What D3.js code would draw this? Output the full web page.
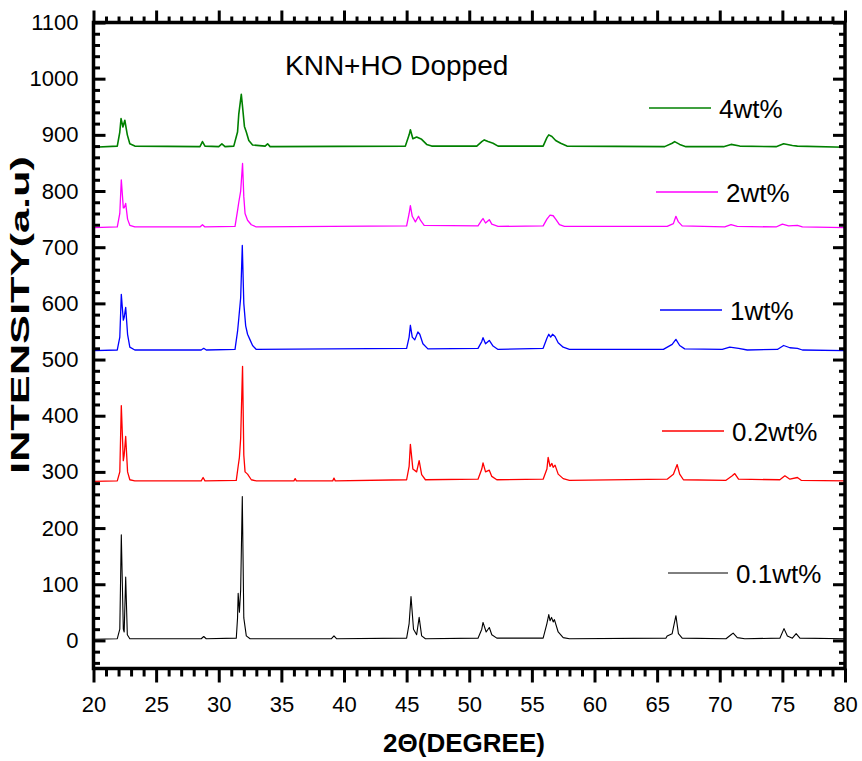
<!DOCTYPE html>
<html>
<head>
<meta charset="utf-8">
<script src="https://cdn.jsdelivr.net/npm/d3@7"></script>
<style>
  body { margin: 0; background: #fff; }
  svg { display: block; font-family: "Liberation Sans", Arial, sans-serif; }
</style>
</head>
<body>
<svg id="chart" width="862" height="761"></svg>
<script>
// peak profiles, [2theta, intensity]
const wt01 = [[20,2],[21.9,3],[22.1,20],[22.22,188],[22.38,20],[22.45,15],[22.57,113],[22.7,10],[22.9,3],
  [28.6,3],[28.8,7],[29.0,3],[31.4,4],[31.5,40],[31.55,84],[31.65,50],[31.75,90],[31.88,256],[32.0,40],[32.2,8],[32.5,3],
  [39.0,3],[39.2,8],[39.4,3],[45.0,4],[45.2,30],[45.35,78],[45.55,20],[45.8,10],[46.0,41],[46.2,8],[46.5,3],
  [50.7,4],[51.0,20],[51.1,32],[51.35,15],[51.6,23],[51.8,10],[52.2,4],[55.9,4],[56.2,30],[56.35,46],[56.45,35],
  [56.57,41],[56.7,33],[56.8,37],[57.1,15],[57.5,5],[58,3],[65.7,4],[65.8,8],[66.2,12],[66.5,44],[66.7,12],[67.0,4],
  [70.5,3],[70.9,10],[71.07,13],[71.4,5],[72,3],[74.8,4],[75.13,21],[75.4,8],[75.8,4],[76.1,12],[76.4,4],[80,3]];

const wt02 = [[20,283],[21.9,284],[22.1,300],[22.22,418],[22.38,320],[22.45,330],[22.57,363],[22.72,300],[22.9,286],[23.3,284],
  [28.6,284],[28.75,290],[28.9,284],[31.4,285],[31.55,310],[31.65,326],[31.75,360],[31.9,488],[32.0,330],[32.1,300],[32.3,296],
  [32.6,286],[33,284],[36.0,284],[36.1,288],[36.2,284],[39.1,284],[39.2,289],[39.3,284],[45.0,286],[45.2,310],[45.3,349],
  [45.5,305],[45.8,300],[46.0,320],[46.2,295],[46.5,286],[50.7,287],[51.0,305],[51.1,316],[51.3,300],[51.6,303],[51.8,292],
  [52.2,286],[55.9,287],[56.2,305],[56.3,326],[56.45,310],[56.6,315],[56.7,308],[56.85,312],[57.1,296],[57.5,288],[58,285],
  [65.8,287],[66.3,296],[66.6,313],[66.8,296],[67.1,286],[70.5,285],[71.0,293],[71.2,297],[71.5,287],[74.8,286],[75.2,293],
  [75.6,287],[76.2,290],[76.5,285],[80,284]];

const wt1 = [[20,516],[21.9,517],[22.1,540],[22.22,616],[22.38,570],[22.45,575],[22.57,593],[22.72,545],[22.9,522],[23.3,517],
  [28.6,517],[28.8,520],[29,517],[31.3,518],[31.5,550],[31.6,573],[31.75,610],[31.88,703],[32.0,600],[32.15,560],[32.3,545],
  [32.5,535],[32.7,525],[33,518],[45.0,520],[45.2,540],[45.3,561],[45.45,540],[45.65,535],[45.9,549],[46.05,545],[46.3,528],
  [46.7,519],[50.7,520],[51.0,532],[51.1,539],[51.3,528],[51.6,534],[51.9,524],[52.3,518],[55.9,520],[56.2,538],[56.35,545],
  [56.5,540],[56.65,545],[56.85,541],[57.1,530],[57.5,522],[58,518],[65.5,518],[66.2,527],[66.5,536],[66.8,525],[67.2,519],
  [70.2,518],[70.8,522],[71.5,520],[72.2,517],[74.6,518],[75.1,525],[75.6,521],[76.2,520],[76.6,517],[80,516]];

const wt2 = [[20,735],[21.9,736],[22.1,760],[22.22,820],[22.38,770],[22.45,770],[22.57,778],[22.72,750],[22.9,739],[23.3,736],
  [28.5,736],[28.7,740],[28.9,736],[31.3,737],[31.5,765],[31.6,780],[31.75,800],[31.9,849],[32.0,790],[32.1,760],[32.3,748],
  [32.6,740],[33,736],[45.0,738],[45.2,760],[45.3,774],[45.45,755],[45.7,745],[45.95,755],[46.1,748],[46.4,739],[50.7,738],
  [51.0,748],[51.1,751],[51.3,743],[51.6,749],[51.8,741],[52.3,737],[55.9,738],[56.2,750],[56.45,757],[56.7,756],[56.9,750],
  [57.2,740],[57.6,737],[65.8,737],[66.3,742],[66.5,755],[66.7,745],[67.0,738],[70.4,736],[70.9,740],[71.4,737],[74.5,736],
  [75.0,741],[75.5,738],[76.2,739],[76.6,736],[80,735]];

const wt4 = [[20,878],[21.9,880],[22.1,905],[22.2,929],[22.35,914],[22.5,926],[22.7,900],[22.9,884],[23.3,880],[28.5,879],
  [28.7,888],[28.9,880],[30.0,879],[30.25,884],[30.5,879],[31.2,880],[31.5,905],[31.6,937],[31.8,972],[31.9,950],[32.05,915],
  [32.2,905],[32.4,890],[32.7,882],[33.7,880],[33.9,884],[34.1,879],[44.9,880],[45.2,900],[45.3,909],[45.5,893],[45.8,896],
  [46.2,892],[46.6,883],[47,880],[50.6,880],[51.0,888],[51.2,891],[51.5,888],[51.9,885],[52.3,880],[55.9,880],[56.2,895],
  [56.35,900],[56.6,897],[56.9,890],[57.3,885],[57.8,880],[65.6,879],[66.2,885],[66.4,888],[66.8,883],[67.3,879],[70.3,879],
  [70.9,883],[71.6,880],[74.5,879],[75.1,884],[75.8,881],[76.2,880],[80,878]];

const labels = ["0.1wt%", "0.2wt%", "1wt%", "2wt%", "4wt%"];
const colors = ["#000000", "#ff0000", "#0000ff", "#ff00ff", "#008000"];
const xTicks = [20, 25, 30, 35, 40, 45, 50, 55, 60, 65, 70, 75, 80];
const yTicks = [0, 100, 200, 300, 400, 500, 600, 700, 800, 900, 1000, 1100];

// legend placement (line start/end x, y) per series
const legendPos = [[668, 728, 573], [662, 724, 431], [660, 722, 310], [656, 718, 192], [649, 711, 108]];

const series = [wt01, wt02, wt1, wt2, wt4];

const svg = d3.select("#chart");
svg.append("rect").attr("width", 862).attr("height", 761).attr("fill", "#fff");

const plotL = 93.5, plotR = 845, plotT = 22.5, plotB = 668.5;
const x = d3.scaleLinear().domain([20, 80]).range([plotL, plotR]);
const y = d3.scaleLinear().domain([-50, 1100]).range([plotB, plotT]);

const line = d3.line().x(d => x(d[0])).y(d => y(d[1]));

svg.append("g")
  .selectAll("path")
  .data(series)
  .join("path")
  .attr("d", line)
  .attr("fill", "none")
  .attr("stroke", (d, i) => colors[i])
  .attr("stroke-width", (d, i) => i === 0 ? 1.1 : (i === 4 ? 1.6 : 1.3))
  .attr("stroke-linejoin", "round");

// minor/major ticks
const xMinor = d3.range(20, 80.01, 1).filter(v => v % 5 !== 0);
const yMinor = d3.range(-40, 1100, 20).filter(v => v % 100 !== 0);

function styleAxis(g) {
  g.select(".domain").remove();
  g.selectAll(".tick line").attr("stroke", "#000").attr("stroke-width", 3);
  g.selectAll(".tick text").attr("font-size", 22).attr("font-family", "Liberation Sans, Arial, sans-serif").attr("fill", "#000");
}

// bottom
svg.append("g").attr("transform", `translate(0,${plotB})`)
  .call(d3.axisBottom(x).tickValues(xTicks).tickSize(14).tickPadding(14).tickFormat(d3.format("d")))
  .call(styleAxis);
svg.append("g").attr("transform", `translate(0,${plotB})`)
  .call(d3.axisBottom(x).tickValues(xMinor).tickSize(8).tickFormat(""))
  .call(styleAxis);
// top
svg.append("g").attr("transform", `translate(0,${plotT})`)
  .call(d3.axisTop(x).tickValues(xTicks).tickSize(12).tickFormat(""))
  .call(styleAxis);
svg.append("g").attr("transform", `translate(0,${plotT})`)
  .call(d3.axisTop(x).tickValues(xMinor).tickSize(6).tickFormat(""))
  .call(styleAxis);
// left (ticks inside)
const leftAx = svg.append("g").attr("transform", `translate(${plotL},0)`)
  .call(d3.axisRight(y).tickValues(yTicks).tickSize(12).tickFormat(d3.format("d")))
  .call(styleAxis);
leftAx.selectAll(".tick text").attr("text-anchor", "end").attr("x", -15);
svg.append("g").attr("transform", `translate(${plotL},0)`)
  .call(d3.axisRight(y).tickValues(yMinor).tickSize(6.5).tickFormat(""))
  .call(styleAxis);
// right (ticks inside)
svg.append("g").attr("transform", `translate(${plotR},0)`)
  .call(d3.axisLeft(y).tickValues(yTicks).tickSize(12).tickFormat(""))
  .call(styleAxis);
svg.append("g").attr("transform", `translate(${plotR},0)`)
  .call(d3.axisLeft(y).tickValues(yMinor).tickSize(6).tickFormat(""))
  .call(styleAxis);

// frame
svg.append("rect")
  .attr("x", plotL).attr("y", plotT)
  .attr("width", plotR - plotL).attr("height", plotB - plotT)
  .attr("fill", "none").attr("stroke", "#000").attr("stroke-width", 3.5);

// legend
const leg = svg.append("g");
legendPos.forEach((p, i) => {
  leg.append("line")
    .attr("x1", p[0]).attr("x2", p[1]).attr("y1", p[2]).attr("y2", p[2])
    .attr("stroke", colors[i]).attr("stroke-width", i === 0 ? 1 : 1.3);
  leg.append("text")
    .attr("x", p[1] + 8).attr("y", p[2] + 10)
    .attr("font-size", 26)
    .attr("fill", "#000")
    .text(labels[i]);
});

svg.append("text")
  .attr("x", 285).attr("y", 75)
  .attr("font-size", 28)
  .text("KNN+HO Dopped");

svg.append("text")
  .attr("x", 464).attr("y", 752)
  .attr("text-anchor", "middle")
  .attr("font-size", 26)
  .attr("font-weight", "bold")
  .text("2\u0398(DEGREE)");

svg.append("text")
  .attr("transform", "translate(29,315) rotate(-90)")
  .attr("text-anchor", "middle")
  .attr("font-size", 25)
  .attr("font-weight", "bold")
  .attr("textLength", 318)
  .attr("lengthAdjust", "spacingAndGlyphs")
  .text("INTENSITY(a.u)");
</script>
</body>
</html>
